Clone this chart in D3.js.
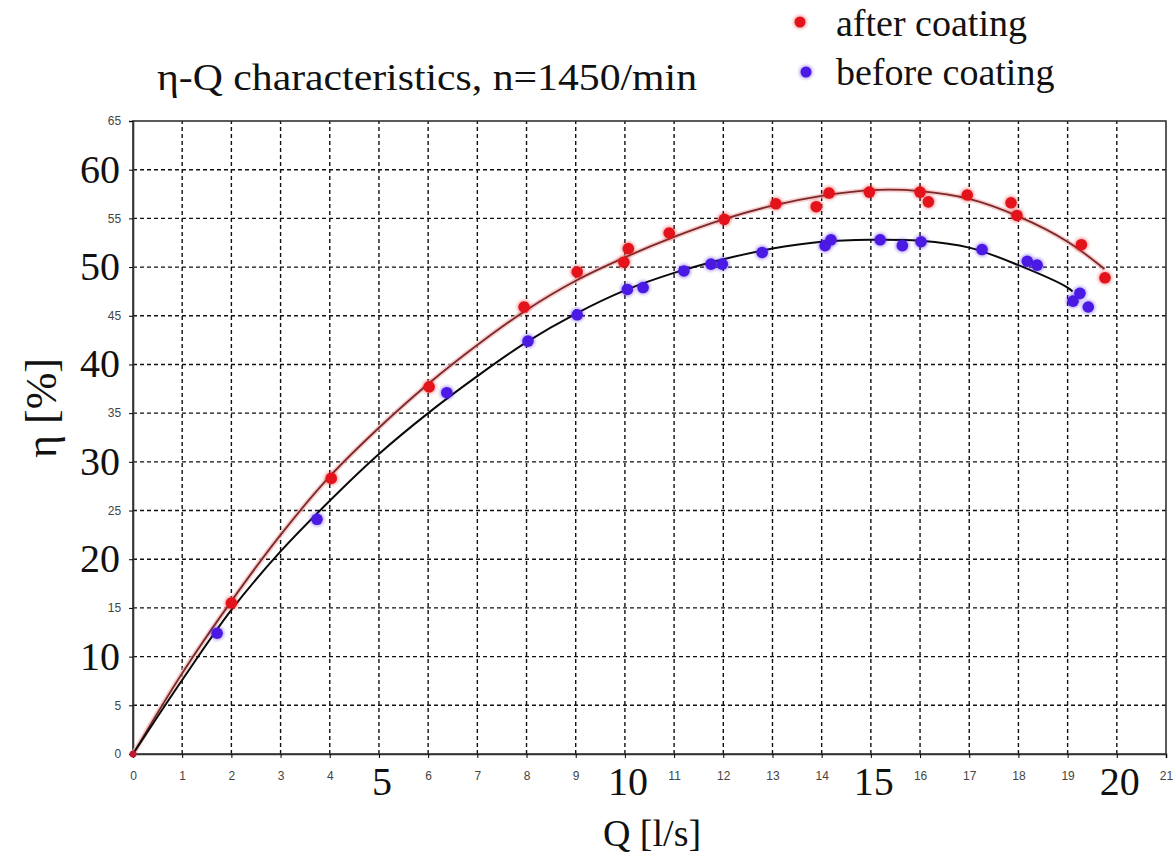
<!DOCTYPE html>
<html><head><meta charset="utf-8">
<script src="https://cdn.jsdelivr.net/npm/d3@7/dist/d3.min.js"></script>
<style>body{margin:0;background:#fff;}svg{display:block;}</style>
</head><body>
<svg id="chart" width="1175" height="855"></svg>
<script>
// Measured points: [Q (l/s), eta (%)]
const afterPoints = [[0,0],[2.0,15.5],[4.03,28.3],[6.02,37.7],[7.95,45.9],[9.03,49.5],[9.98,50.5],[10.07,51.9],[10.9,53.5],[12.02,54.9],[13.07,56.5],[13.89,56.2],[14.15,57.6],[14.97,57.7],[16.0,57.7],[16.17,56.7],[16.96,57.4],[17.85,56.6],[17.97,55.3],[19.28,52.3],[19.76,48.9]];
const beforePoints = [[1.71,12.4],[3.74,24.1],[6.38,37.1],[8.03,42.4],[9.03,45.1],[10.05,47.7],[10.37,47.9],[11.2,49.6],[11.75,50.3],[11.98,50.3],[12.79,51.5],[14.07,52.2],[14.19,52.8],[15.19,52.8],[15.64,52.2],[16.02,52.6],[17.26,51.8],[18.18,50.6],[18.38,50.2],[19.11,46.5],[19.25,47.3],[19.42,45.9]];
// Fitted curves
const afterCurve = [[0,0],[1,8.3],[2,15.7],[3,22.5],[4,28.5],[5,33.5],[6,38.0],[7,42.0],[8,45.6],[9,48.6],[10,51.0],[11,53.1],[12,54.9],[13,56.3],[14,57.3],[15,57.9],[16,57.8],[17,57.0],[18,55.2],[19,52.6],[19.75,49.8]];
const beforeCurve = [[0,0],[1,7.6],[2,14.8],[3,20.8],[4,26.0],[5,30.8],[6,35.0],[7,38.8],[8,42.3],[9,45.2],[10,47.6],[11,49.4],[12,50.8],[13,51.9],[14,52.6],[15,52.8],[16,52.7],[17,52.0],[18,50.2],[19,47.9],[19.1,47.5]];
const xTicks = d3.range(0, 22);
const xBigTicks = [5, 10, 15, 20];
const yTicks = d3.range(0, 70, 5);
const yBigTicks = [10, 20, 30, 40, 50, 60];
const seriesNames = ["after coating", "before coating"];
const title = "η-Q characteristics, n=1450/min";
const xLabel = "Q [l/s]";
const yLabel = "η [%]";

const svg = d3.select("#chart");
const x = d3.scaleLinear().domain([0, 21]).range([133, 1166]);
const y = d3.scaleLinear().domain([0, 65]).range([754, 121]);
const RED = "#e3121b", BLUE = "#4a1ae4";
const SERIF = "Liberation Serif, Times New Roman, serif";

const defs = svg.append("defs");
const f = defs.append("filter").attr("id","glow").attr("x","-50%").attr("y","-50%").attr("width","200%").attr("height","200%");
f.append("feGaussianBlur").attr("stdDeviation", 1.6);

// grid
const g = svg.append("g");
g.selectAll(".vg").data(xTicks.filter(d => d > 0 && d < 21)).join("line")
  .attr("x1", d => x(d)).attr("x2", d => x(d)).attr("y1", y(0)).attr("y2", y(65))
  .attr("stroke", "#111").attr("stroke-width", 1.4).attr("stroke-dasharray", "4,3");
g.selectAll(".hg").data(yTicks.filter(d => d > 0 && d < 65)).join("line")
  .attr("x1", x(0)).attr("x2", x(21)).attr("y1", d => y(d)).attr("y2", d => y(d))
  .attr("stroke", "#111").attr("stroke-width", 1.4).attr("stroke-dasharray", "4,3");

// frame
g.append("rect").attr("x", x(0)).attr("y", y(65)).attr("width", x(21) - x(0)).attr("height", y(0) - y(65))
  .attr("fill", "none").attr("stroke", "#333").attr("stroke-width", 1.6);

// axes
const xAxis = d3.axisBottom(x).tickValues(xTicks).tickSize(4).tickFormat(d => xBigTicks.includes(d) ? "" : d);
const xa = svg.append("g").attr("transform", `translate(0,${y(0)})`).call(xAxis);
xa.select(".domain").attr("stroke", "#333").attr("stroke-width", 1.6);
xa.selectAll("text").attr("font-family", "Arial, Liberation Sans, sans-serif").attr("font-size", 12).attr("fill", "#444").attr("dy", "1.6em");
const yAxis = d3.axisLeft(y).tickValues(yTicks).tickSize(4).tickFormat(d => yBigTicks.includes(d) ? "" : d);
const ya = svg.append("g").attr("transform", `translate(${x(0)},0)`).call(yAxis);
ya.select(".domain").attr("stroke", "#333").attr("stroke-width", 1.6);
ya.selectAll("text").attr("font-family", "Arial, Liberation Sans, sans-serif").attr("font-size", 12).attr("fill", "#444").attr("dx", "-0.4em");

// big labels
svg.selectAll(".bx").data(xBigTicks).join("text")
  .attr("x", d => x(d) + 3).attr("y", 795).attr("text-anchor", "middle")
  .attr("font-family", SERIF).attr("font-size", 40).attr("fill", "#111").text(d => d);
svg.selectAll(".by").data(yBigTicks).join("text")
  .attr("x", 120).attr("y", d => y(d) + 13).attr("text-anchor", "end")
  .attr("font-family", SERIF).attr("font-size", 40).attr("fill", "#111").text(d => d);

// curves
const line = d3.line().x(d => x(d[0])).y(d => y(d[1])).curve(d3.curveCatmullRom.alpha(0.5));
svg.append("path").datum(afterCurve).attr("d", line).attr("fill", "none").attr("stroke", "#f4b8b8").attr("stroke-width", 5).attr("opacity", 0.7);
svg.append("path").datum(afterCurve).attr("d", line).attr("fill", "none").attr("stroke", "#7a2a2a").attr("stroke-width", 1.8);
svg.append("path").datum(beforeCurve).attr("d", line).attr("fill", "none").attr("stroke", "#0a0a0a").attr("stroke-width", 2);

// points
function dots(data, color, r) {
  const gg = svg.append("g");
  gg.selectAll(".h").data(data).join("circle").attr("cx", d => x(d[0])).attr("cy", d => y(d[1])).attr("r", r + 1.5)
    .attr("fill", color).attr("opacity", 0.35).attr("filter", "url(#glow)");
  gg.selectAll(".c").data(data).join("circle").attr("cx", d => x(d[0])).attr("cy", d => y(d[1])).attr("r", r)
    .attr("fill", color);
}
dots(beforePoints, BLUE, 5.8);
dots(afterPoints.slice(1), RED, 5.8);
svg.append("circle").attr("cx", x(0)).attr("cy", y(0)).attr("r", 3.5).attr("fill", "#c01830");

// title
svg.append("text").attr("x", 157).attr("y", 90).attr("font-family", SERIF)
  .attr("font-size", 37).attr("textLength", 540).attr("lengthAdjust", "spacingAndGlyphs")
  .attr("fill", "#111").text(title);

// legend
const legend = svg.append("g");
const legendColors = [RED, BLUE];
const legendPos = [[800, 22, 836, 36], [806, 72, 836, 85]];
seriesNames.forEach((n, i) => {
  const p = legendPos[i];
  legend.append("circle").attr("cx", p[0]).attr("cy", p[1]).attr("r", 7).attr("fill", legendColors[i]).attr("opacity", 0.35).attr("filter", "url(#glow)");
  legend.append("circle").attr("cx", p[0]).attr("cy", p[1]).attr("r", 5.5).attr("fill", legendColors[i]);
  legend.append("text").attr("x", p[2]).attr("y", p[3]).attr("font-family", SERIF)
    .attr("font-size", 38).attr("fill", "#111").text(n);
});

// axis titles
svg.append("text").attr("x", 652).attr("y", 846).attr("text-anchor", "middle")
  .attr("font-family", SERIF).attr("font-size", 38).attr("fill", "#111").text(xLabel);
svg.append("text").attr("transform", "translate(56,408) rotate(-90)").attr("text-anchor", "middle")
  .attr("font-family", SERIF).attr("font-size", 44).attr("fill", "#111").text(yLabel);
</script>
</body></html>
